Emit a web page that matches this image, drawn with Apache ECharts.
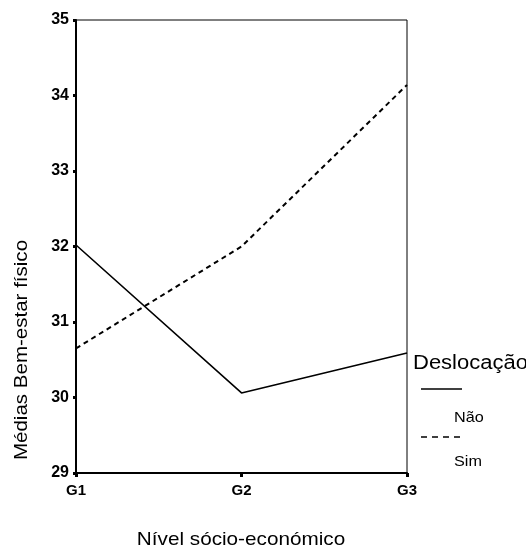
<!DOCTYPE html>
<html>
<head>
<meta charset="utf-8">
<script src="https://cdn.jsdelivr.net/npm/echarts@6/dist/echarts.min.js"></script>
<style>
html,body{margin:0;padding:0;background:#fff;}
#chart{width:526px;height:548px;}
</style>
</head>
<body>
<div id="chart"></div>
<script>
const categories = ['G1', 'G2', 'G3'];
const naoValues = [32.02, 30.06, 30.59];
const simValues = [30.65, 32.0, 34.14];
const yTicks = [29, 30, 31, 32, 33, 34, 35];
const seriesNames = ['Não', 'Sim'];
const legendTitle = 'Deslocação';
const xTitle = 'Nível sócio-económico';
const yTitle = 'Médias Bem-estar físico';

const FONT = '"Liberation Sans", Arial, sans-serif';
const chart = echarts.init(document.getElementById('chart'));
chart.setOption({
  animation: false,
  backgroundColor: '#fff',
  grid: {
    left: 76, right: 119, top: 20, bottom: 75,
    show: true, borderColor: '#000', borderWidth: 1
  },
  xAxis: {
    type: 'category',
    data: categories,
    boundaryGap: false,
    axisLine: { lineStyle: { color: '#000', width: 2 } },
    axisTick: { alignWithLabel: true, length: 4, lineStyle: { color: '#000', width: 3 } },
    axisLabel: { color: '#000', fontFamily: FONT, fontSize: 15, fontWeight: 'bold', margin: 10 },
    splitLine: { show: false }
  },
  yAxis: {
    type: 'value',
    min: yTicks[0], max: yTicks[yTicks.length - 1], interval: 1,
    axisLine: { show: true, lineStyle: { color: '#000', width: 2 } },
    axisTick: { show: true, length: 3, lineStyle: { color: '#000', width: 3 } },
    axisLabel: { color: '#000', fontFamily: FONT, fontSize: 16, fontWeight: 'bold', margin: 7 },
    splitLine: { show: false }
  },
  series: [
    {
      name: seriesNames[0], type: 'line', data: naoValues,
      symbol: 'none',
      lineStyle: { color: '#000', width: 1.6, type: 'solid' }
    },
    {
      name: seriesNames[1], type: 'line', data: simValues,
      symbol: 'none',
      lineStyle: { color: '#000', width: 2, type: [5, 4] }
    }
  ],
  graphic: [
    {
      type: 'text', x: 22, y: 350, rotation: Math.PI / 2, scaleX: 1.08,
      style: { text: yTitle, fill: '#000', font: '19px ' + FONT, textAlign: 'center', textVerticalAlign: 'middle' }
    },
    {
      type: 'text', x: 241, y: 540, scaleX: 1.09,
      style: { text: xTitle, fill: '#000', font: '19px ' + FONT, textAlign: 'center', textVerticalAlign: 'middle' }
    },
    {
      type: 'text', x: 413, y: 363, scaleX: 1.1,
      style: { text: legendTitle, fill: '#000', font: '20px ' + FONT, textAlign: 'left', textVerticalAlign: 'middle' }
    },
    {
      type: 'line', shape: { x1: 421, y1: 389, x2: 462, y2: 389 },
      style: { stroke: '#000', lineWidth: 1.6 }
    },
    {
      type: 'text', x: 454, y: 418, scaleX: 1.08,
      style: { text: seriesNames[0], fill: '#000', font: '15px ' + FONT, textAlign: 'left', textVerticalAlign: 'middle' }
    },
    {
      type: 'line', shape: { x1: 421, y1: 437, x2: 462, y2: 437 },
      style: { stroke: '#000', lineWidth: 1.6, lineDash: [6, 5] }
    },
    {
      type: 'text', x: 454, y: 462, scaleX: 1.08,
      style: { text: seriesNames[1], fill: '#000', font: '15px ' + FONT, textAlign: 'left', textVerticalAlign: 'middle' }
    }
  ]
});
</script>
</body>
</html>
